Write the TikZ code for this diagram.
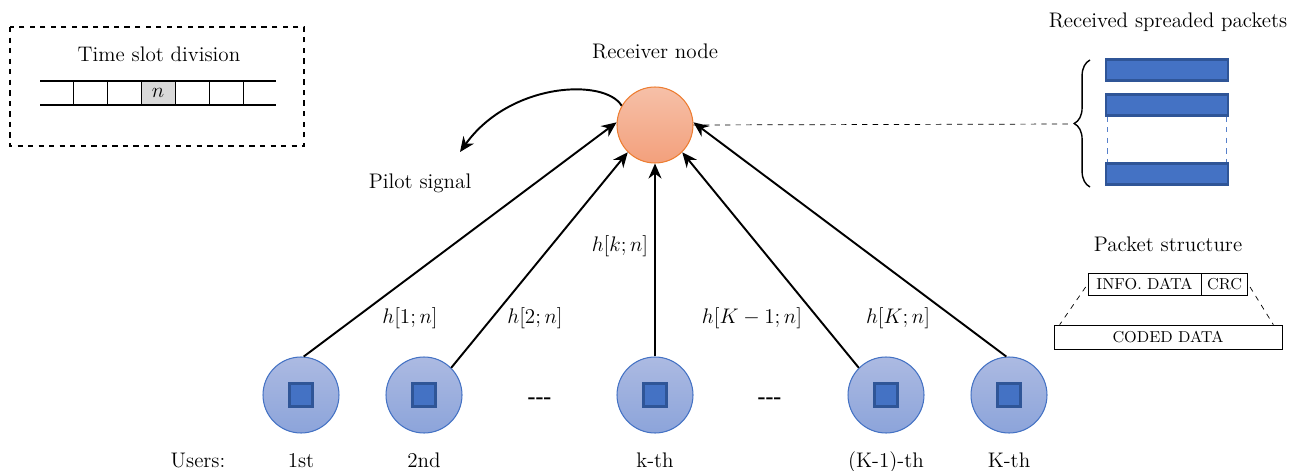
\documentclass[tikz,border=0pt]{standalone}
\usepackage{amsmath}
\usepackage{xcolor}
\usetikzlibrary{arrows.meta, positioning, calc, decorations.pathreplacing}
\definecolor{usertop}{RGB}{172, 186, 226}
\definecolor{userbot}{RGB}{140, 164, 218}
\definecolor{userline}{RGB}{68, 114, 196}
\definecolor{pktfill}{RGB}{68, 114, 196}
\definecolor{pktline}{RGB}{47, 85, 151}
\definecolor{recvtop}{RGB}{246, 192, 168}
\definecolor{recvbot}{RGB}{243, 160, 124}
\definecolor{recvline}{RGB}{237, 125, 49}

\begin{document}
\begin{tikzpicture}[
  x=0.02cm, y=-0.02cm,
  every node/.style={font=\large},
  user/.style={
    circle, draw=userline, top color=usertop, bottom color=userbot,
    minimum size=1.52cm, inner sep=0pt, line width=0.6pt
  },
  dev/.style={
    rectangle, draw=pktline, fill=pktfill, line width=1.3pt,
    minimum size=0.46cm, inner sep=0pt
  },
  recv/.style={
    circle, draw=recvline, top color=recvtop, bottom color=recvbot,
    minimum size=1.52cm, inner sep=0pt, line width=0.6pt
  },
  packet/.style={
    rectangle, draw=pktline, fill=pktfill, line width=1.3pt,
    minimum width=2.44cm, minimum height=0.42cm, inner sep=0pt
  },
  field/.style={
    rectangle, draw, font=\small, minimum height=0.44cm, inner sep=0pt
  },
  ulabel/.style={anchor=north, text height=1.7ex, text depth=0.5ex},
  link/.style={-{Stealth[length=3mm, width=2.6mm]}, line width=1.1pt},
  dots/.style={font=\large\bfseries}
]
  \useasboundingbox (0,0) rectangle (1295,470);

  % Divisione in slot temporali
  \draw[dashed, thick] (10,27) rectangle (304,146);
  \node (slottitle) at (159,54) {Time slot division};
  \fill[gray!30] (141,81) rectangle (175,105);
  \draw[thick] (40,81) -- (276,81);
  \draw[thick] (40,105) -- (276,105);
  \foreach \x in {73,107,141,175,209,243}
    \draw (\x,81) -- (\x,105);
  \node (slotn) at (158,93) {$n$};

  % Nodo ricevitore
  \node[recv] (rx) at (655,125) {};
  \node[above=0.42cm of rx] (rxlabel) {Receiver node};

  % Segnale pilota
  \coordinate (pilot) at (460,152);
  \draw[link] (rx.150) .. controls (605,78) and (510,82) .. (pilot);
  \node (pilotlabel) at (420,183) {Pilot signal};

  % Utenti
  \node[user] (u1) at (301,395) {};
  \node[user] (u2) at (424,395) {};
  \node[user] (uk) at (655,395) {};
  \node[user] (uk1) at (886,395) {};
  \node[user] (uK) at (1009,395) {};
  \node[dev] (d1) at (u1) {};
  \node[dev] (d2) at (u2) {};
  \node[dev] (dk) at (uk) {};
  \node[dev] (dk1) at (uk1) {};
  \node[dev] (dK) at (uK) {};
  \node[dots] (dotsa) at (540,401) {-{}-{}-};
  \node[dots] (dotsb) at (770,401) {-{}-{}-};

  % Etichette utenti
  \node[ulabel, below=0.3cm of u1] (l1) {1st};
  \node[ulabel, below=0.3cm of u2] (l2) {2nd};
  \node[ulabel, below=0.3cm of uk] (lk) {k-th};
  \node[ulabel, below=0.3cm of uk1] (lk1) {(K-1)-th};
  \node[ulabel, below=0.3cm of uK] (lK) {K-th};
  \node[ulabel, anchor=north] (users) at (l1.north -| 198,0) {Users:};

  % Canali verso il ricevitore
  \draw[link] (u1.86) -- (rx.176);
  \draw[link] (u2.45) -- (rx.225);
  \draw[link] (uk.north) -- (rx.south);
  \draw[link] (uk1.135) -- (rx.-45);
  \draw[link] (uK.94) -- (rx.4);
  \node (h1) at (410,318) {$h[1;n]$};
  \node (h2) at (535,318) {$h[2;n]$};
  \node (hk) at (620,246) {$h[k;n]$};
  \node (hk1) at (752,318) {$h[K-1;n]$};
  \node (hK) at (898,318) {$h[K;n]$};

  % Pacchetti ricevuti
  \node (pkttitle) at (1168,22) {Received spreaded packets};
  \node[packet] (p1) at (1167,70) {};
  \node[packet] (p2) at (1167,105) {};
  \node[packet] (p3) at (1167,174) {};
  \draw[dashed, thick, pktfill!90] ([xshift=1.5pt]p2.south west) -- ([xshift=1.5pt]p3.north west);
  \draw[dashed, thick, pktfill!90] ([xshift=-1.5pt]p2.south east) -- ([xshift=-1.5pt]p3.north east);
  \draw[decorate, decoration={brace, amplitude=9pt}, thick] (1090,187) -- (1090,60);
  \coordinate (brtip) at (1072,124);
  \draw[dashed] (rx.east) -- (brtip);

  % Struttura del pacchetto
  \node (structtitle) at (1168,244) {Packet structure};
  \node[field, minimum width=2.26cm] (info) at (1144.5,284) {INFO. DATA};
  \node[field, minimum width=0.92cm, right=0pt of info] (crc) {CRC};
  \node[field, minimum width=4.56cm, minimum height=0.48cm] (coded) at (1168,337) {CODED DATA};
  \draw[dashed] ($(info.west)+(-2,3)$) -- ($(coded.north west)+(6,0)$);
  \draw[dashed] ($(crc.east)+(2,3)$) -- ($(coded.north east)+(-9,0)$);

\end{tikzpicture}
\end{document}
